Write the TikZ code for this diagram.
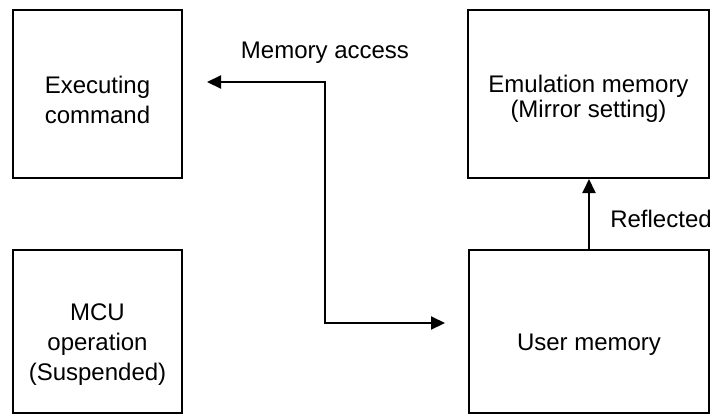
\documentclass[tikz,border=0pt]{standalone}
\usepackage{fontspec}
\setmainfont{Liberation Sans}
\usetikzlibrary{arrows.meta}
\tikzset{block/.style={draw, line width=1pt, align=center, inner sep=0pt, font=\fontsize{12}{15}\selectfont, text depth=0pt}}
\tikzset{link/.style={line width=1pt}}
\tikzset{caption/.style={inner sep=0pt, font=\fontsize{12}{15}\selectfont}}

\begin{document}
\begin{tikzpicture}[x=0.5pt, y=-0.5pt, >={Triangle[length=7pt, width=6.5pt]}]
            \useasboundingbox (0,0) rectangle (717,419);
            \node[block, minimum width=84.5pt, minimum height=84pt, text height=29.3pt] (exec) at (97.5,94) {Executing\\command};
            \node[block, minimum width=84.5pt, minimum height=81.5pt, text height=48.5pt] (mcu) at (97.5,331.5) {MCU\\operation\\(Suspended)};
            \node[block, minimum width=120.5pt, minimum height=84pt, font=\fontsize{12}{12.5}\selectfont, text height=23pt] (emu) at (588.5,94) {Emulation memory\\(Mirror setting)};
            \node[block, minimum width=120pt, minimum height=81.5pt, text height=18.5pt] (user) at (589,331.5) {User memory};
            \coordinate (bendtop) at (325,82);
            \coordinate (bendlow) at (325,323);
            \draw[link, <->, shorten <=12pt, shorten >=11.5pt] (exec.east |- bendtop) -- (bendtop) -- (bendlow) -- (user.west |- bendlow);
            \draw[link, ->] (user.north) -- (user.north |- emu.south);
            \node[caption] (access) at (325,53) {Memory access};
            \node[caption] (reflected) at (661,219) {Reflected};
        \end{tikzpicture}
\end{document}
